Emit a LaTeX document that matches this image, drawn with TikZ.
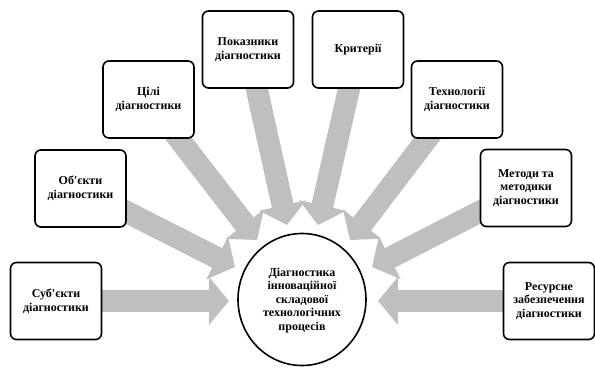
\documentclass[tikz,border=0pt]{standalone}
\usepackage{fontspec}
\setmainfont{Liberation Serif}[Ligatures=TeXOff]
\usetikzlibrary{arrows.meta}
\begin{document}
\begin{tikzpicture}[x=1pt,y=-1pt,
  lbl/.style={align=center,font=\fontsize{12}{13.6}\selectfont\bfseries},
  box/.style={lbl,draw=black,fill=white,line width=1.6pt,rounded corners=6pt,
    minimum width=91pt,minimum height=77pt,inner sep=2pt},
  blockarrow/.style={draw=gray!50,line width=22pt,
    -{Triangle[length=20pt,width=47pt]}}]
\useasboundingbox (0,0) rectangle (595,370);
% tips
\coordinate (tSub) at (229,301);
\coordinate (tOb) at (235,267);
\coordinate (tCil) at (257,240);
\coordinate (tPok) at (287,225);
\coordinate (tKr) at (318,225);
\coordinate (tTe) at (350,240);
\coordinate (tMe) at (372,267);
\coordinate (tRe) at (378,301);
% box centres
\coordinate (cSub) at (56,301);
\coordinate (cOb) at (80.5,188.5);
\coordinate (cCil) at (148.5,99.5);
\coordinate (cPok) at (248,49.5);
\coordinate (cKr) at (358,49.5);
\coordinate (cTe) at (457,99.5);
\coordinate (cMe) at (526,188);
\coordinate (cRe) at (549,301);
% arrows
\draw[blockarrow] (cSub) -- (tSub);
\draw[blockarrow] (cOb) -- (tOb);
\draw[blockarrow] (cCil) -- (tCil);
\draw[blockarrow] (cPok) -- (tPok);
\draw[blockarrow] (cKr) -- (tKr);
\draw[blockarrow] (cTe) -- (tTe);
\draw[blockarrow] (cMe) -- (tMe);
\draw[blockarrow] (cRe) -- (tRe);
% boxes
\node[box] (sub) at (cSub) {Суб'єкти\\діагностики};
\node[box] (ob) at (cOb) {Об'єкти\\діагностики};
\node[box] (cil) at (cCil) {Цілі\\діагностики};
\node[box] (pok) at (cPok) {Показники\\діагностики};
\node[box] (kr) at (cKr) {Критерії};
\node[box] (te) at (cTe) {Технології\\діагностики};
\node[box] (me) at (cMe) {Методи та\\методики\\діагностики};
\node[box] (re) at (cRe) {Ресурсне\\забезпечення\\діагностики};
% hub
\draw[line width=1.6pt,fill=white] (302,299.5) ellipse [x radius=64pt,y radius=66pt];
\node[lbl] (hub) at (302,300.5)
  {Діагностика\\інноваційної\\складової\\технологічних\\процесів};
\end{tikzpicture}
\end{document}
